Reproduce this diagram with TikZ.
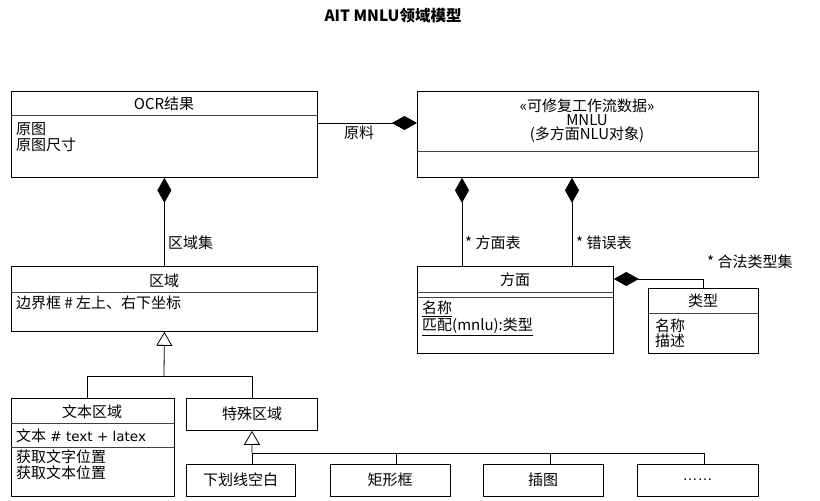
\documentclass[tikz,border=0pt]{standalone}
\usepackage{fontspec}
\setmainfont{Noto Sans CJK SC}
\newfontfamily\latinfont{Liberation Sans}
\newfontfamily\codefont[Scale=0.9]{DejaVu Sans}
\usetikzlibrary{arrows.meta}
\tikzset{
	cls/.style={draw, line width=0.8pt, anchor=north west, inner sep=0pt},
	lbl/.style={inner sep=0pt, font=\fontsize{15}{17}\selectfont},
	attr/.style={lbl, anchor=west},
	sep/.style={line width=0.8pt, color=black!75},
	link/.style={line width=0.8pt},
	comp/.style={link, -{Diamond[length=25pt,width=14pt]}},
	gen/.style={link, -{Triangle[open,length=14pt,width=16pt]}},
}

\begin{document}
\begin{tikzpicture}[x=1pt, y=-1pt]
			%%%%% START %%%%%
			\useasboundingbox (0,0) rectangle (820,501);
			
			\node[lbl, font=\fontsize{15.5}{17}\selectfont\bfseries] (title) at (393,16) {AIT MNLU领域模型};
			
			\node[cls, minimum width=306, minimum height=86] (ocr) at (11,91) {};
			\node[cls, minimum width=341, minimum height=86] (mnlu) at (417,91) {};
			\node[cls, minimum width=306, minimum height=65] (region) at (11,266) {};
			\node[cls, minimum width=196, minimum height=87] (aspect) at (417,266) {};
			\node[cls, minimum width=110, minimum height=65] (type) at (648,288) {};
			\node[cls, minimum width=163, minimum height=98] (textreg) at (11,398) {};
			\node[cls, minimum width=131, minimum height=32] (special) at (186,398) {};
			
			\node[cls, minimum width=109, minimum height=32] (underl) at (186,464) {};
			\node[cls, minimum width=120, minimum height=32] (rectbox) at (330,464) {};
			\node[cls, minimum width=120, minimum height=32] (illus) at (483,464) {};
			\node[cls, minimum width=121, minimum height=32] (more) at (637,464) {};
			
			\draw[sep] ([yshift=-24pt]ocr.north west) -- ([yshift=-24pt]ocr.north east);
			\draw[sep] ([yshift=-60pt]mnlu.north west) -- ([yshift=-60pt]mnlu.north east);
			\draw[sep] ([yshift=-26pt]region.north west) -- ([yshift=-26pt]region.north east);
			\draw[sep] ([yshift=-26pt]aspect.north west) -- ([yshift=-26pt]aspect.north east);
			\draw[sep] ([yshift=-31pt]aspect.north west) -- ([yshift=-31pt]aspect.north east);
			\draw[sep] ([yshift=-25pt]type.north west) -- ([yshift=-25pt]type.north east);
			\draw[sep] ([yshift=-25pt]textreg.north west) -- ([yshift=-25pt]textreg.north east);
			\draw[sep] ([yshift=-49pt]textreg.north west) -- ([yshift=-49pt]textreg.north east);
			
			\node[lbl] (ocrname) at (164,104) {OCR结果};
			\node[attr] (ocrimg) at (16,129) {原图};
			\node[attr] (ocrsize) at (16,145) {原图尺寸};
			
			\node[lbl, align=center, font=\fontsize{15}{14}\selectfont] (mnluname) at (587,121) {«可修复工作流数据»\\MNLU\\(多方面NLU对象)};
			
			\node[lbl] (regionname) at (164,281) {区域};
			\node[attr] (regionbox) at (16,303) {边界框 \# 左上、右下坐标};
			
			\node[lbl] (aspectname) at (515,280) {方面};
			\node[attr] (aspectkey) at (422,309) {\underline{名称}};
			\node[attr] (aspectmatch) at (422,327) {\underline{匹配(mnlu):类型}};
			
			\node[lbl] (typename) at (703,301) {类型};
			\node[attr] (typekey) at (655,326) {名称};
			\node[attr] (typedesc) at (655,341) {描述};
			
			\node[lbl] (textname) at (92,412) {文本区域};
			\node[attr] (texttext) at (16,436) {文本{\codefont{} \# text + latex}};
			\node[attr] (textget1) at (16,457) {获取文字位置};
			\node[attr] (textget2) at (16,473) {获取文本位置};
			
			\node[lbl] (specialname) at (252,414) {特殊区域};
			\node[lbl] (underlname) at (240.5,480) {下划线空白};
			\node[lbl] (rectname) at (390,480) {矩形框};
			\node[lbl] (illusname) at (543,480) {插图};
			\node[lbl] (morename) at (697.5,480) {\latinfont ……};
			
			% composition
			\draw[comp] ([yshift=-32pt]ocr.north east) -- ([yshift=-32pt]mnlu.north west);
			\node[lbl] (rawlbl) at (359,133) {原料};
			\draw[comp] (region.north) -- (ocr.south);
			\node[attr] (setlbl) at (168,243) {区域集};
			
			\coordinate (aspL) at ([xshift=45pt]aspect.north west);
			\coordinate (aspR) at ([xshift=155pt]aspect.north west);
			\draw[comp] (aspL) -- (aspL |- mnlu.south);
			\draw[comp] (aspR) -- (aspR |- mnlu.south);
			\node[attr] (asplbl) at (465,243) {* 方面表};
			\node[attr] (errlbl) at (576,243) {* 错误表};
			
			\draw[comp] (type.north) |- ([yshift=-13pt]aspect.north east);
			\node[attr] (typelbl) at (707,262) {* 合法类型集};
			
			% generalization
			\coordinate (splitA) at (164,376);
			\draw[gen] (splitA) -- (region.south);
			\draw[link] ([xshift=-5.5pt]textreg.north) |- (splitA);
			\draw[link] (special.north) |- (splitA);
			
			\coordinate (splitB) at (252,453);
			\draw[gen] (splitB) -- (special.south);
			\draw[link] ([xshift=11.5pt]underl.north) |- (splitB);
			\draw[link] ([xshift=6pt]rectbox.north) |- (splitB);
			\draw[link] ([xshift=6.5pt]illus.north) |- (splitB);
			\draw[link] ([xshift=6.5pt]more.north) |- (splitB);
			
			%%%%% END %%%%%
\end{tikzpicture}
\end{document}
